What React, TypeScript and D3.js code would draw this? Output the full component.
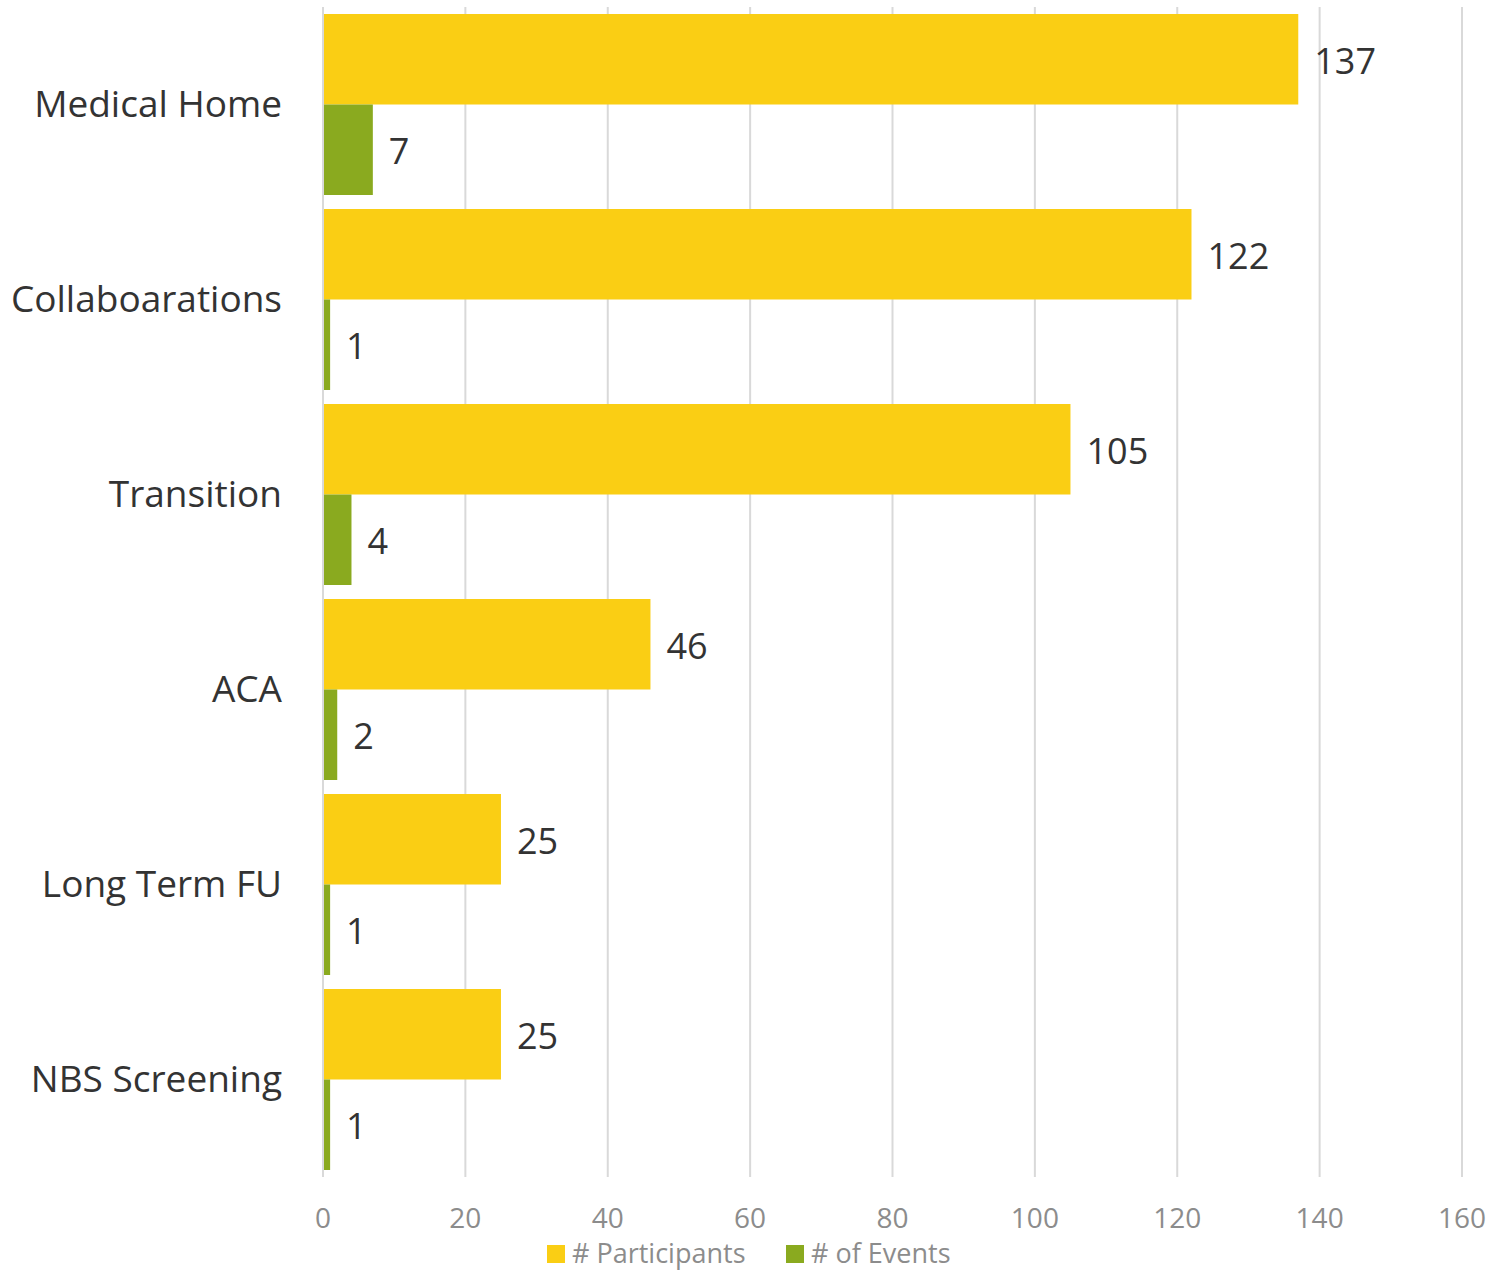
import React, { useEffect, useRef } from "react";
import * as d3 from "d3";

const categories = ["Medical Home", "Collaboarations", "Transition", "ACA", "Long Term FU", "NBS Screening"];
const participants = [137, 122, 105, 46, 25, 25];
const events = [7, 1, 4, 2, 1, 1];
const seriesNames = ["# Participants", "# of Events"];
const seriesColors = ["#FACE14", "#8AAA1F"];
const xTicks = [0, 20, 40, 60, 80, 100, 120, 140, 160];

const FONT = "'Open Sans', 'Noto Sans', sans-serif";

export default function App() {
  const svgRef = useRef<SVGSVGElement>(null);

  useEffect(() => {
    if (!svgRef.current) return;
    const width = 1491;
    const height = 1270;
    const marginLeft = 323;
    const marginRight = 29;
    const marginTop = 7;
    const plotBottom = 1177;

    d3.select(svgRef.current).selectAll("*").remove();
    const svg = d3.select(svgRef.current)
      .attr("width", width)
      .attr("height", height)
      .attr("viewBox", [0, 0, width, height]);

    const x = d3.scaleLinear().domain([0, 160]).range([marginLeft, width - marginRight]);
    const y = d3.scaleBand<string>()
      .domain(categories)
      .range([marginTop, plotBottom])
      .paddingInner(14 / 195)
      .paddingOuter(7 / 195);
    const sub = d3.scaleBand<number>().domain([0, 1]).range([0, y.bandwidth()]);

    // Gridlines
    svg.append("g")
      .selectAll("line")
      .data(xTicks)
      .join("line")
      .attr("x1", d => x(d))
      .attr("x2", d => x(d))
      .attr("y1", marginTop)
      .attr("y2", plotBottom)
      .attr("stroke", "#d9d9d9")
      .attr("stroke-width", 2);

    // Tick labels
    svg.append("g")
      .selectAll("text")
      .data(xTicks)
      .join("text")
      .attr("x", d => x(d))
      .attr("y", 1228)
      .attr("text-anchor", "middle")
      .attr("fill", "#8c8c8c")
      .style("font-family", FONT)
      .style("font-size", "28px")
      .text(d => d);

    const rows = categories.map((c, i) => ({ c, vals: [participants[i], events[i]] }));

    const groups = svg.append("g")
      .selectAll("g")
      .data(rows)
      .join("g")
      .attr("transform", d => `translate(0,${y(d.c)})`);

    groups.selectAll("rect")
      .data(d => d.vals.map((v, k) => ({ v, k })))
      .join("rect")
      .attr("x", x(0) + 1)
      .attr("y", d => sub(d.k)!)
      .attr("width", d => x(d.v) - x(0) - 1)
      .attr("height", sub.bandwidth())
      .attr("fill", d => seriesColors[d.k]);

    groups.selectAll("text.val")
      .data(d => d.vals.map((v, k) => ({ v, k })))
      .join("text")
      .attr("class", "val")
      .attr("x", d => x(d.v) + 16)
      .attr("y", d => sub(d.k)! + sub.bandwidth() / 2)
      .attr("dy", "0.4em")
      .attr("fill", "#333333")
      .style("font-family", FONT)
      .style("font-size", "36px")
      .text(d => d.v);

    // Category labels
    svg.append("g")
      .selectAll("text")
      .data(categories)
      .join("text")
      .attr("x", 282)
      .attr("y", d => y(d)! + y.bandwidth() / 2)
      .attr("dy", "0.35em")
      .attr("text-anchor", "end")
      .attr("fill", "#333333")
      .style("font-family", FONT)
      .style("font-size", "37px")
      .text(d => d);

    // Legend
    const legendX = [547, 786];
    const legend = svg.append("g")
      .selectAll("g")
      .data(seriesNames)
      .join("g")
      .attr("transform", (d, i) => `translate(${legendX[i]},1245)`);
    legend.append("rect")
      .attr("width", 18)
      .attr("height", 18)
      .attr("fill", (d, i) => seriesColors[i]);
    legend.append("text")
      .attr("x", 25)
      .attr("y", 9)
      .attr("dy", "0.35em")
      .attr("fill", "#8c8c8c")
      .style("font-family", FONT)
      .style("font-size", "27px")
      .text(d => d);
  }, []);

  return <svg ref={svgRef} style={{ display: "block", position: "absolute", left: 0, top: 0 }}></svg>;
}
